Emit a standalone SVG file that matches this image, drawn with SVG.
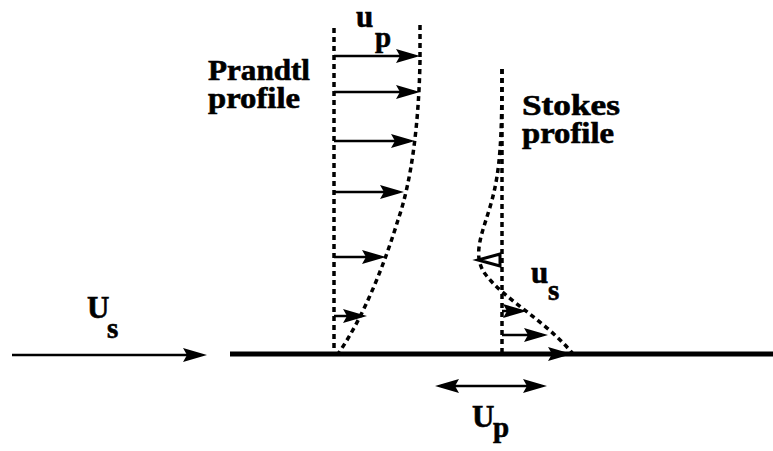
<svg xmlns="http://www.w3.org/2000/svg" width="773" height="451" viewBox="0 0 773 451">
<style>
text{font-family:"Liberation Serif","Times New Roman",serif;font-weight:bold;fill:#000;stroke:#000;stroke-width:0.6}
.lbl{font-size:29px}
.sym{font-size:31px}
.sub{font-size:29px}
.dot{fill:none;stroke:#000;stroke-width:3.5;stroke-dasharray:5 4}
.arr{fill:none;stroke:#000;stroke-width:2.5}
.hd{fill:#000}
</style>
<defs>
<path id="head" d="M0,0 L-24,-7 L-20,0 L-24,7 Z"/>
</defs>
<g id="wall">
<line x1="230" y1="354" x2="773" y2="354" stroke="#000" stroke-width="5"/>
</g>
<g id="prandtl-profile">
<line class="dot" x1="334" y1="28" x2="334" y2="353"/>
<line class="dot" x1="420" y1="25" x2="420" y2="60"/>
<path class="dot" d="M420,60 C419,120 412,180 398,220 C385,262 365,315 338,354"/>
</g>
<g id="stokes-profile">
<line class="dot" x1="502" y1="69" x2="502" y2="352"/>
<path class="dot" d="M502,69 C502,140 500,170 492,200 C484,230 470,255 486,275 C505,300 545,320 573,354"/>
</g>
<g id="connectors">
<line class="arr" x1="12" y1="355" x2="200" y2="355"/>
<use href="#head" class="hd" transform="translate(207,355)"/>
<line class="arr" x1="334" y1="56" x2="414" y2="56"/>
<use href="#head" class="hd" transform="translate(420,56)"/>
<line class="arr" x1="334" y1="92" x2="414" y2="92"/>
<use href="#head" class="hd" transform="translate(420,92)"/>
<line class="arr" x1="334" y1="141" x2="409" y2="141"/>
<use href="#head" class="hd" transform="translate(415,141)"/>
<line class="arr" x1="334" y1="192" x2="398" y2="192"/>
<use href="#head" class="hd" transform="translate(404,192)"/>
<line class="arr" x1="334" y1="257" x2="380" y2="257"/>
<use href="#head" class="hd" transform="translate(386,257)"/>
<line class="arr" x1="334" y1="316" x2="361" y2="316"/>
<use href="#head" class="hd" transform="translate(367,316)"/>
<path d="M478,260 L500,254 L500,266 Z" fill="none" stroke="#000" stroke-width="3"/>
<line class="arr" x1="502" y1="311" x2="521" y2="311"/>
<use href="#head" class="hd" transform="translate(527,311)"/>
<line class="arr" x1="502" y1="335" x2="542" y2="335"/>
<use href="#head" class="hd" transform="translate(548,335)"/>
<use href="#head" class="hd" transform="translate(572,354)"/>
<line class="arr" x1="441" y1="386" x2="541" y2="386"/>
<use href="#head" class="hd" transform="translate(547,386)"/>
<use href="#head" class="hd" transform="translate(435,386) rotate(180)"/>
</g>
<g id="labels">
<text class="lbl"><tspan x="208" y="80" textLength="102" lengthAdjust="spacingAndGlyphs">Prandtl</tspan><tspan x="208" y="108" textLength="92" lengthAdjust="spacingAndGlyphs">profile</tspan></text>
<text class="lbl"><tspan x="522" y="115" textLength="98" lengthAdjust="spacingAndGlyphs">Stokes</tspan><tspan x="522" y="143" textLength="92" lengthAdjust="spacingAndGlyphs">profile</tspan></text>
<text class="sym" x="356" y="27">u</text>
<text class="sub" x="375" y="47">p</text>
<text class="sym" x="531" y="283">u</text>
<text class="sub" x="548" y="300">s</text>
<text class="sym" x="87" y="318">U</text>
<text class="sub" x="107" y="338">s</text>
<text class="sym" x="472" y="427">U</text>
<text class="sub" x="493" y="437">p</text>
</g>
</svg>
